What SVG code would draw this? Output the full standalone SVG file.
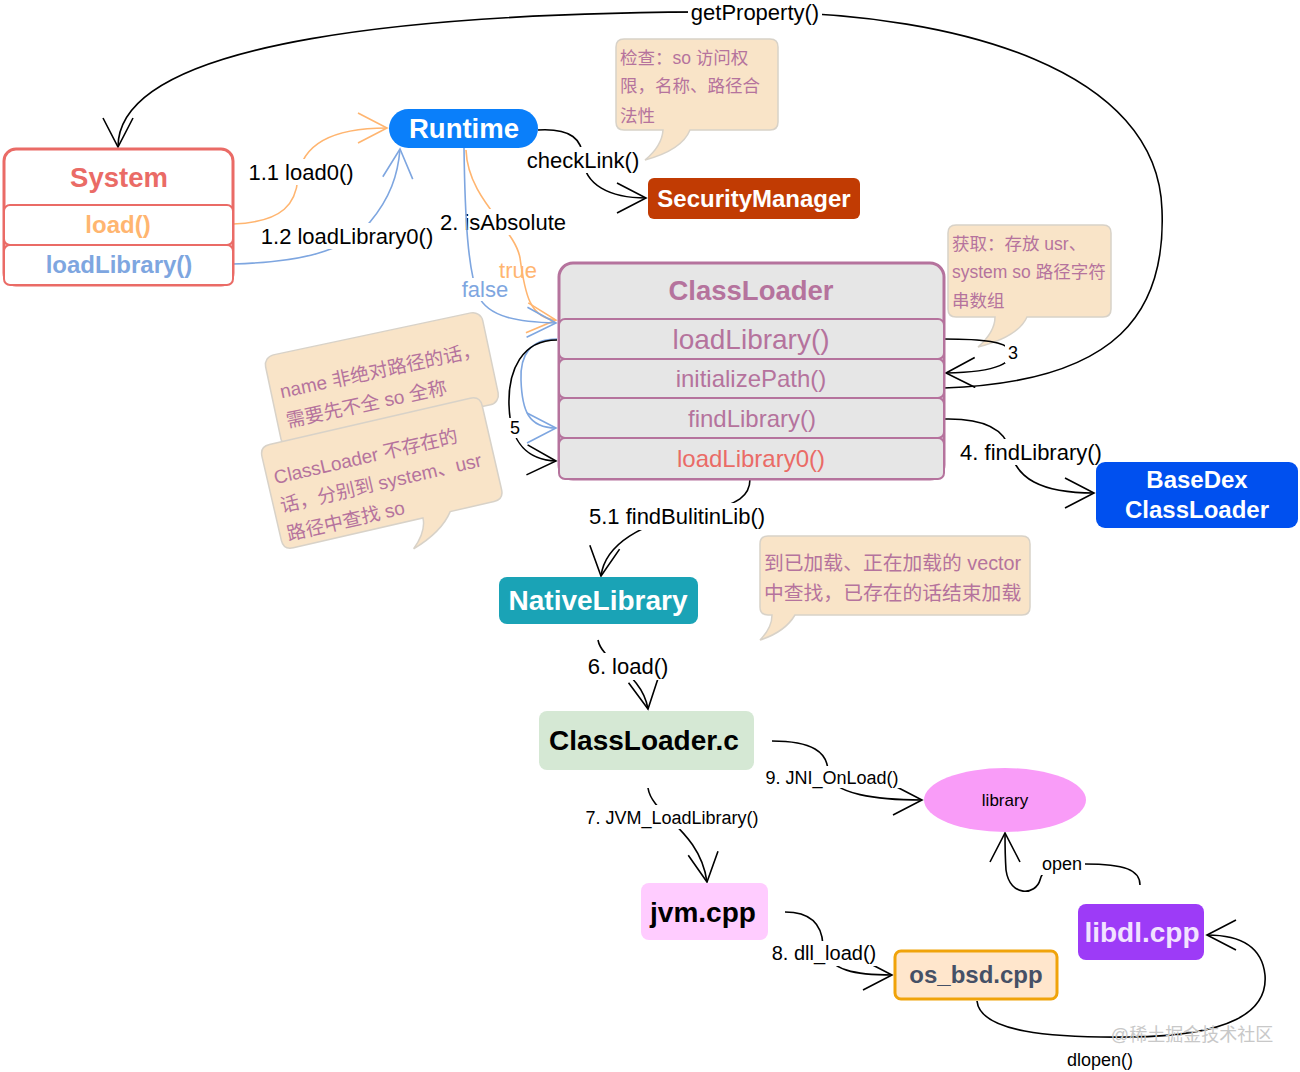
<svg xmlns="http://www.w3.org/2000/svg" width="1300" height="1072" viewBox="0 0 1300 1072">
<style>
text{font-family:"Liberation Sans","Noto Sans CJK SC",Arial,sans-serif;}
.lbl{font-size:22px;fill:#000;text-anchor:middle;}
.sm{font-size:18px;fill:#000;text-anchor:middle;}
.bg{fill:#fff;}
.c{fill:none;stroke:#000;stroke-width:1.6;}
.co{fill:none;stroke:#FFB570;stroke-width:1.6;}
.cb{fill:none;stroke:#7EA6E0;stroke-width:1.6;}
.call{fill:#F9E4C8;stroke:#D8D2C8;stroke-width:1.5;}
.ct{font-size:17.5px;fill:#B5739D;}
.b{font-weight:bold;}
.mid{text-anchor:middle;}
</style>
<defs>
<marker id="ak" viewBox="0 0 32 32" refX="30" refY="16" markerWidth="32" markerHeight="32" markerUnits="userSpaceOnUse" orient="auto"><path d="M1,1 L30,16 L1,31" fill="none" stroke="#000" stroke-width="1.6"/></marker>
<marker id="ao" viewBox="0 0 32 32" refX="30" refY="16" markerWidth="32" markerHeight="32" markerUnits="userSpaceOnUse" orient="auto"><path d="M1,1 L30,16 L1,31" fill="none" stroke="#FFB570" stroke-width="1.6"/></marker>
<marker id="ab" viewBox="0 0 32 32" refX="30" refY="16" markerWidth="32" markerHeight="32" markerUnits="userSpaceOnUse" orient="auto"><path d="M1,1 L30,16 L1,31" fill="none" stroke="#7EA6E0" stroke-width="1.6"/></marker>
</defs>
<rect width="1300" height="1072" fill="#fff"/>

<!-- callouts -->
<g id="note-check">
<path class="call" d="M624 39 H770 Q778 39 778 47 V122 Q778 130 770 130 H690 Q682 150 645 160 Q662 146 663 130 H624 Q616 130 616 122 V47 Q616 39 624 39 Z"/>
<text class="ct" x="620" y="64">检查：so 访问权</text>
<text class="ct" x="620" y="92">限，名称、路径合</text>
<text class="ct" x="620" y="122">法性</text>
</g>
<g id="note-paths">
<path class="call" d="M956 225 H1103 Q1111 225 1111 233 V309 Q1111 317 1103 317 H1027 Q1018 337 978 347 Q995 332 995 317 H956 Q948 317 948 309 V233 Q948 225 956 225 Z"/>
<text class="ct" x="952" y="250">获取：存放 usr、</text>
<text class="ct" x="952" y="278">system so 路径字符</text>
<text class="ct" x="952" y="307">串数组</text>
</g>
<g id="note-vector">
<path class="call" d="M768 536 H1022 Q1030 536 1030 544 V607 Q1030 615 1022 615 H795 Q785 632 760 640 Q772 628 772 615 H768 Q760 615 760 607 V544 Q760 536 768 536 Z"/>
<text class="ct" style="font-size:19.8px" x="764" y="570">到已加载、正在加载的 vector</text>
<text class="ct" style="font-size:19.8px" x="764" y="600">中查找，已存在的话结束加载</text>
</g>
<g id="note-name" transform="translate(386,380) rotate(-12)">
<rect class="call" x="-115" y="-48" width="222" height="94" rx="10"/>
<text class="ct" style="font-size:19px" x="-106" y="-4">name 非绝对路径的话，</text>
<text class="ct" style="font-size:19px" x="-106" y="26">需要先不全 so 全称</text>
</g>
<g id="note-usr" transform="translate(382,474) rotate(-13)">
<path class="call" d="M-103 -54 H103 Q113 -54 113 -44 V42 Q113 52 103 52 H58 Q45 70 14 80 Q30 66 30 52 H-103 Q-113 52 -113 42 V-44 Q-113 -54 -103 -54 Z"/>
<text class="ct" style="font-size:19px" x="-106" y="-14">ClassLoader 不存在的</text>
<text class="ct" style="font-size:19px" x="-106" y="15">话，分别到 system、usr</text>
<text class="ct" style="font-size:19px" x="-106" y="44">路径中查找 so</text>
</g>

<!-- connectors -->
<g id="connectors">
<path class="c" marker-end="url(#ak)" d="M944 388 C1120 382 1166 310 1162 210 C1158 70 960 14 760 12 C420 10 118 40 118 147"/>
<rect class="bg" x="688" y="1" width="134" height="24"/>
<text class="lbl" x="755" y="20">getProperty()</text>

<path class="co" marker-end="url(#ao)" d="M233 224 C285 222 296 202 298 178 C302 140 340 128 387 128"/>
<rect class="bg" x="245" y="159" width="112" height="26"/>
<text class="lbl" x="301" y="180">1.1 load0()</text>

<path class="cb" marker-end="url(#ab)" d="M233 264 C300 262 345 252 370 222 C390 198 398 175 400 149"/>
<rect class="bg" x="258" y="223" width="180" height="26"/>
<text class="lbl" x="347" y="244">1.2 loadLibrary0()</text>

<path class="c" marker-end="url(#ak)" d="M538 130 C572 128 582 140 583 158 C584 185 610 198 646 198"/>
<rect class="bg" x="524" y="147" width="118" height="26"/>
<text class="lbl" x="583" y="168">checkLink()</text>

<path class="co" marker-end="url(#ao)" d="M466 150 C468 200 515 228 520 258 C525 295 530 318 556 320"/>
<rect class="bg" x="437" y="209" width="132" height="26"/>
<text class="lbl" x="503" y="230">2. isAbsolute</text>
<path class="cb" marker-end="url(#ab)" d="M464 148 C465 220 468 270 478 295 C488 318 520 322 556 323"/>
<text class="lbl" x="518" y="278" style="fill:#FFB570">true</text>
<rect class="bg" x="459" y="278" width="50" height="23"/>
<text class="lbl" x="485" y="297" style="fill:#7EA6E0">false</text>

<path class="cb" marker-end="url(#ab)" d="M557 339 C530 339 520 355 521 380 C522 410 528 428 556 428"/>
<path class="c" marker-end="url(#ak)" d="M557 340 C522 340 508 370 509 405 C510 445 530 460 556 461"/>
<rect class="bg" x="507" y="418" width="15" height="20"/>
<text class="sm" x="515" y="434">5</text>

<path class="c" marker-end="url(#ak)" d="M944 339 C985 339 1005 342 1010 350 C1014 362 1000 372 946 373"/>
<rect class="bg" x="1005" y="343" width="16" height="20"/>
<text class="sm" x="1013" y="359">3</text>

<path class="c" marker-end="url(#ak)" d="M944 419 C985 418 1005 430 1010 450 C1016 478 1040 493 1094 493"/>
<rect class="bg" x="957" y="439" width="148" height="26"/>
<text class="lbl" x="1031" y="460">4. findLibrary()</text>

<path class="c" marker-end="url(#ak)" d="M750 479 C750 495 740 505 700 512 C640 522 605 545 601 576"/>
<rect class="bg" x="586" y="503" width="182" height="27"/>
<text class="lbl" x="677" y="524">5.1 findBulitinLib()</text>

<path class="c" marker-end="url(#ak)" d="M598 640 C602 662 642 672 648 709"/>
<rect class="bg" x="585" y="653" width="86" height="27"/>
<text class="lbl" x="628" y="674">6. load()</text>

<path class="c" marker-end="url(#ak)" d="M648 788 C652 815 700 830 707 882"/>
<rect class="bg" x="582" y="805" width="181" height="24"/>
<text class="sm" x="672" y="824">7. JVM_LoadLibrary()</text>

<path class="c" marker-end="url(#ak)" d="M772 741 C812 741 828 752 828 772 C830 795 880 800 922 800"/>
<rect class="bg" x="763" y="766" width="139" height="22"/>
<text class="sm" x="832" y="784">9. JNI_OnLoad()</text>

<path class="c" marker-end="url(#ak)" d="M785 912 C812 912 822 925 823 945 C826 972 860 975 892 975"/>
<rect class="bg" x="769" y="941" width="110" height="25"/>
<text class="lbl" x="824" y="960" style="font-size:20px">8. dll_load()</text>

<path class="c" marker-end="url(#ak)" d="M977 1001 C980 1032 1050 1038 1130 1037 C1230 1036 1268 1012 1265 975 C1262 946 1240 935 1207 935"/>
<rect class="bg" x="1063" y="1048" width="74" height="23"/>
<text class="sm" x="1100" y="1066">dlopen()</text>

<path class="c" marker-end="url(#ak)" d="M1140 885 C1140 870 1125 864 1085 864 C1045 864 1042 872 1040 880 C1036 895 1010 898 1006 870 C1005 855 1005 845 1005 833"/>
<rect class="bg" x="1040" y="854" width="45" height="21"/>
<text class="sm" x="1062" y="870">open</text>
</g>

<!-- nodes -->
<g id="system">
<rect x="4" y="149" width="229" height="136" rx="12" fill="#fff" stroke="#EA6B66" stroke-width="3"/>
<rect x="4" y="205" width="229" height="40" rx="6" fill="#fff" stroke="#EA6B66" stroke-width="2"/>
<rect x="4" y="245" width="229" height="40" rx="6" fill="#fff" stroke="#EA6B66" stroke-width="2"/>
<text class="b mid" x="119" y="187" style="font-size:27.5px;fill:#EA6B66">System</text>
<text class="b mid" x="118" y="233" style="font-size:24px;fill:#FFB570">load()</text>
<text class="b mid" x="119" y="273" style="font-size:24px;fill:#7EA6E0">loadLibrary()</text>
</g>
<g id="runtime">
<rect x="389" y="109" width="149" height="39" rx="19.5" fill="#0A7FFA"/>
<text class="b mid" x="464" y="138" style="font-size:27.5px;fill:#fff">Runtime</text>
</g>
<g id="securitymanager">
<rect x="648" y="178" width="212" height="41" rx="6" fill="#C13B03"/>
<text class="b mid" x="754" y="207" style="font-size:24px;fill:#fff">SecurityManager</text>
</g>
<g id="classloader">
<rect x="559" y="263" width="385" height="216" rx="14" fill="#E6E6E6" stroke="#B5739D" stroke-width="3"/>
<rect x="559" y="319" width="385" height="40" rx="6" fill="#E6E6E6" stroke="#B5739D" stroke-width="2"/>
<rect x="559" y="359" width="385" height="39" rx="6" fill="#E6E6E6" stroke="#B5739D" stroke-width="2"/>
<rect x="559" y="398" width="385" height="40" rx="6" fill="#E6E6E6" stroke="#B5739D" stroke-width="2"/>
<rect x="559" y="438" width="385" height="41" rx="6" fill="#E6E6E6" stroke="#B5739D" stroke-width="2"/>
<text class="b mid" x="751" y="300" style="font-size:27.5px;fill:#B5739D">ClassLoader</text>
<text class="mid" x="751" y="349" style="font-size:28px;fill:#B5739D">loadLibrary()</text>
<text class="mid" x="751" y="387" style="font-size:24px;fill:#B5739D">initializePath()</text>
<text class="mid" x="752" y="427" style="font-size:24px;fill:#B5739D">findLibrary()</text>
<text class="mid" x="751" y="467" style="font-size:24px;fill:#EA6B66">loadLibrary0()</text>
</g>
<g id="basedex">
<rect x="1096" y="462" width="202" height="66" rx="9" fill="#0050EF"/>
<text class="b mid" x="1197" y="488" style="font-size:24px;fill:#fff">BaseDex</text>
<text class="b mid" x="1197" y="518" style="font-size:24px;fill:#fff">ClassLoader</text>
</g>
<g id="nativelibrary">
<rect x="499" y="577" width="199" height="47" rx="8" fill="#1AA3B6"/>
<text class="b mid" x="598" y="610" style="font-size:28px;fill:#fff">NativeLibrary</text>
</g>
<g id="classloader-c">
<rect x="539" y="711" width="215" height="59" rx="8" fill="#D5E8D4"/>
<text class="b mid" x="644" y="750" style="font-size:28px;fill:#000">ClassLoader.c</text>
</g>
<g id="library">
<ellipse cx="1005" cy="800" rx="81" ry="32" fill="#F99CF8"/>
<text class="mid" x="1005" y="806" style="font-size:17px;fill:#000">library</text>
</g>
<g id="jvm">
<rect x="641" y="883" width="127" height="57" rx="8" fill="#FFCCFF"/>
<text class="b mid" x="703" y="922" style="font-size:28px;fill:#000">jvm.cpp</text>
</g>
<g id="osbsd">
<rect x="895" y="951" width="162" height="48" rx="6" fill="#FFE6CC" stroke="#F0A30A" stroke-width="3"/>
<text class="b mid" x="976" y="983" style="font-size:24px;fill:#455066">os_bsd.cpp</text>
</g>
<g id="libdl">
<rect x="1078" y="904" width="126" height="56" rx="8" fill="#9D3BF7"/>
<text class="b mid" x="1142" y="942" style="font-size:28px;fill:#F2E2FF">libdl.cpp</text>
</g>
<text x="1192" y="1041" class="mid" style="font-size:18px;fill:#C8C8C8">@稀土掘金技术社区</text>
</svg>
